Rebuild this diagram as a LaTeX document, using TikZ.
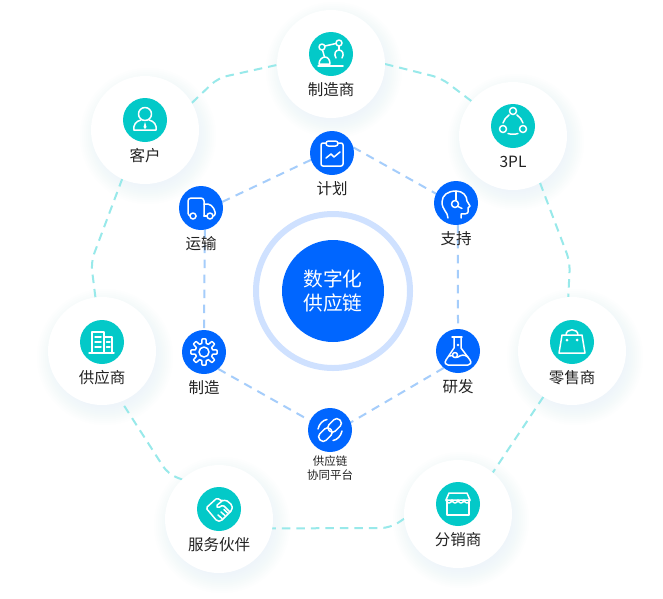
\documentclass[tikz,border=0pt]{standalone}
\usepackage{fontspec}
\setmainfont{Noto Sans CJK SC}
\usetikzlibrary{backgrounds}
\definecolor{tealc}{HTML}{03C9C8}
\definecolor{bluec}{HTML}{0066FF}
\definecolor{ringc}{HTML}{CFE1FF}
\definecolor{outerc}{HTML}{98E9EA}
\definecolor{innerc}{HTML}{A5CDFB}
\definecolor{shadowc}{HTML}{B4C4FA}
\definecolor{textc}{HTML}{222222}
\tikzset{
  disc/.style={circle,fill=white,minimum size=108pt,inner sep=0pt,outer sep=0pt},
  tealdot/.style={circle,fill=tealc,minimum size=44pt,inner sep=0pt,outer sep=0pt},
  bluedot/.style={circle,fill=bluec,minimum size=44pt,inner sep=0pt,outer sep=0pt},
  lab/.style={text=textc,font=\fontsize{15.5}{18}\selectfont,inner sep=0pt},
  smalllab/.style={text=textc,font=\fontsize{11.5}{14}\selectfont,inner sep=0pt},
  outerline/.style={draw=outerc,line width=2pt,dash pattern=on 8.5pt off 6pt,rounded corners=9pt},
  innerline/.style={draw=innerc,line width=2pt,dash pattern=on 8.5pt off 6.5pt},
  icon/.style={draw=white,line width=1.5pt,line join=round,line cap=round},
}
\newcommand{\softshadow}[2]{%
  \foreach \r in {68,66,...,50}{\fill[shadowc,opacity=.014] (#1+3,#2+6) circle[radius=\r pt];}}
\begin{document}
\begin{tikzpicture}[x=1pt,y=-1pt]
\useasboundingbox (0,0) rectangle (663,598);
% central hub
\node[circle,draw=ringc,line width=6pt,minimum size=154pt,inner sep=0pt] (ring) at (333,291) {};
\node[circle,fill=bluec,minimum size=102pt,inner sep=0pt,text=white,align=center,
      font=\fontsize{19.7}{24}\selectfont] (hub) at (333,291) {数字化\\供应链};
% outer discs
\node[disc] (maker) at (331,64) {};
\node[disc] (client) at (145,130) {};
\node[disc] (tpl) at (513,136) {};
\node[disc] (supplier) at (102,351) {};
\node[disc] (retail) at (572,351) {};
\node[disc] (partner) at (219,519) {};
\node[disc] (dist) at (458,514) {};
% teal icons
\node[tealdot] (makerI) at (331,54) {};
\node[tealdot] (clientI) at (145,120) {};
\node[tealdot] (tplI) at (513,126) {};
\node[tealdot] (supplierI) at (102,342) {};
\node[tealdot] (retailI) at (572,342) {};
\node[tealdot] (partnerI) at (219,509) {};
\node[tealdot] (distI) at (458,504) {};
% blue icons
\node[bluedot] (plan) at (332,153) {};
\node[bluedot] (truck) at (201,208) {};
\node[bluedot] (support) at (456,203) {};
\node[bluedot] (gear) at (204,352) {};
\node[bluedot] (flask) at (458,351) {};
\node[bluedot] (link) at (330,430) {};
% labels
\node[lab] (t1) at (331,90) {制造商};
\node[lab] (t2) at (145,156) {客户};
\node[lab] (t3) at (513,162) {3PL};
\node[lab] (t4) at (102,378) {供应商};
\node[lab] (t5) at (572,378) {零售商};
\node[lab] (t6) at (219,545) {服务伙伴};
\node[lab] (t7) at (458,540) {分销商};
\node[lab] (t8) at (332,189) {计划};
\node[lab] (t9) at (201,244) {运输};
\node[lab] (t10) at (456,239) {支持};
\node[lab] (t11) at (204,388) {制造};
\node[lab] (t12) at (458,387) {研发};
\node[smalllab,align=center] (t13) at (330,468) {供应链\\协同平台};
% bends
\coordinate (b1) at (441,78);
\coordinate (b2) at (570,262);
\coordinate (b3) at (390,528);
\coordinate (b4) at (168,474);
\coordinate (b5) at (91,262);
\coordinate (b6) at (218,78);
\begin{pgfonlayer}{background}
  \fill[white] (0,0) rectangle (663,598);
  \softshadow{331}{64}\softshadow{145}{130}\softshadow{513}{136}\softshadow{102}{351}
  \softshadow{572}{351}\softshadow{219}{519}\softshadow{458}{514}
  \path[outerline] (maker.0) -- (b1) -- (tpl.140);
  \path[outerline] (tpl.-60) -- (b2) -- (retail.94);
  \path[outerline] (retail.-122) -- (dist.50);
  \path[outerline] (dist.185) -- (b3) -- (partner.-10);
  \path[outerline] (partner.133) -- (b4) -- (supplier.-69);
  \path[outerline] (supplier.97) -- (b5) -- (client.-115);
  \path[outerline] (client.30) -- (b6) -- (maker.181);
  \path[innerline] (plan.198) -- (truck.16);
  \path[innerline] (plan.15) -- (support.155);
  \path[innerline] (truck.-80) -- (gear.90);
  \path[innerline] (support.-85) -- (flask.90);
  \path[innerline] (gear.-50) -- (link.155);
  \path[innerline] (flask.230) -- (link.20);
\end{pgfonlayer}
% robot arm
\begin{scope}[shift={(makerI)},icon]
  \draw (-13,12) -- (12,12);
  \draw (-9,-7) circle[radius=3pt];
  \draw (8,-11) circle[radius=3pt];
  \draw (-6,-8) -- (5,-10.5);
  \draw (-8.5,-4) -- (-6.5,3);
  \draw (-12,10) .. controls (-12,6) and (-9,3) .. (-6,3) .. controls (-3,3) and (-1,6) .. (-1,10) -- cycle;
  \draw (8,-8) -- (8,-4);
  \draw (5,4) .. controls (2.5,0) and (4.5,-4) .. (8,-4) .. controls (11.5,-4) and (13.5,0) .. (11,4);
\end{scope}
% person
\begin{scope}[shift={(clientI)},icon]
  \draw (0,-6) circle[radius=6.5pt];
  \draw (-11,10) -- (11,10) .. controls (12,5) and (9,1) .. (4,0);
  \draw (-11,10) .. controls (-12,5) and (-9,1) .. (-4,0);
  \fill[white,draw=none] (0,2) -- (1.5,7) -- (0,9) -- (-1.5,7) -- cycle;
\end{scope}
% three nodes
\begin{scope}[shift={(tplI)},icon]
  \draw (0,-15) circle[radius=3.5pt];
  \draw (-10,3) circle[radius=3.5pt];
  \draw (10,3) circle[radius=3.5pt];
  \draw (4,-11) .. controls (7,-9) and (9,-6) .. (10,-3);
  \draw (-4,-11) .. controls (-7,-9) and (-9,-6) .. (-10,-3);
  \draw (-5,7.5) .. controls (-2,8.5) and (2,8.5) .. (5,7.5);
\end{scope}
% building
\begin{scope}[shift={(supplierI)},icon]
  \draw (-13,11) -- (12,11);
  \draw (-10,11) -- (-10,-10) -- (2,-10) -- (2,11);
  \draw (2,-5) -- (10,-5) -- (10,11);
  \foreach \y in {-5,0,5}{\draw (-7,\y) -- (-1,\y);}
  \foreach \y in {0,5}{\draw (4.5,\y) -- (8,\y);}
\end{scope}
% bag
\begin{scope}[shift={(retailI)},icon]
  \draw (-10,-7) -- (10,-7) -- (13,11) -- (-13,11) -- cycle;
  \draw (-6,-7) .. controls (-6,-14) and (6,-14) .. (6,-7);
  \fill[white,draw=none] (-5,-2) circle[radius=1.5pt] (5,-2) circle[radius=1.5pt];
\end{scope}
% handshake
\begin{scope}[shift={(partnerI)},icon,rounded corners=1.5pt]
  \draw (-13,-1) -- (-2,-11) -- (3,-8) -- (7,-9) -- (13,-4) -- (13,1) -- (2,12) -- (-2,12) -- cycle;
  \draw (3,-8) -- (-3,-3) -- (-1,-1) -- (4,-4) -- (11,3);
  \draw (-1,6) -- (3,9.5);
  \draw (2,3) -- (6,6.5);
  \draw (5,0.5) -- (8.5,4);
\end{scope}
% store
\begin{scope}[shift={(distI)},icon]
  \draw (-9,-11) -- (9,-11) -- (12,-4) -- (-12,-4) -- cycle;
  \draw (-11,-4) -- (-11,11) -- (11,11) -- (11,-4);
  \foreach \x in {-12,-6,0,6}{
    \draw (\x,-4) .. controls (\x+1,0) and (\x+5,0) .. (\x+6,-4);}
\end{scope}
% clipboard
\begin{scope}[shift={(plan)},icon]
  \draw[rounded corners=2pt] (-11,-10) rectangle (11,13);
  \draw[fill=bluec,rounded corners=2.5pt] (-6,-12) rectangle (6,-7);
  \draw (-6,5) -- (-1,1) -- (2,4) -- (8,-1);
\end{scope}
% truck
\begin{scope}[shift={(truck)},icon]
  \draw[rounded corners=3pt] (-5,8) -- (-13,8) -- (-13,-10) -- (3,-10) -- (3,8);
  \draw (3,8) -- (6,8);
  \draw[rounded corners=2pt] (3,-4) -- (9,-4) -- (14,2) -- (14,8) -- (12,8);
  \draw[fill=bluec] (-8,8) circle[radius=3pt];
  \draw[fill=bluec] (9,8) circle[radius=3pt];
\end{scope}
% head
\begin{scope}[shift={(support)},icon]
  \draw (-8,15) .. controls (-8,9) and (-14,7) .. (-14,-1) .. controls (-14,-8) and (-8,-12) .. (0,-12)
     .. controls (7,-12) and (11,-7) .. (11,-2) -- (14,3) -- (12,5) -- (12,9) .. controls (12,11) and (8,11) .. (5,11) -- (5,15);
  \draw (0,-12) -- (0,-3);
  \draw (-1,1) circle[radius=3.5pt];
  \draw (2,3.5) -- (6,5.5);
\end{scope}
% gear
\begin{scope}[shift={(gear)},icon]
  \draw plot[domain=0:360,samples=121] (\x:{11+2.2*min(1,max(-1,2.5*cos(8*\x)))}) -- cycle;
  \draw (0,0) circle[radius=5pt];
\end{scope}
% flask
\begin{scope}[shift={(flask)},icon]
  \draw (-6,-14) -- (4,-14);
  \draw (-4,-14) -- (-4,-3) -- (-12,9) .. controls (-14,12) and (-12,14) .. (-10,14) -- (10,14) .. controls (12,14) and (14,12) .. (12,9) -- (3,-3) -- (3,-14);
  \draw (-9,5) .. controls (-5,3) and (-3,8) .. (0,6) .. controls (3,4) and (6,3) .. (10,6);
  \draw[fill=bluec] (-3,4) circle[radius=2.5pt];
  \fill[white,draw=none] (0,-6) circle[radius=1.3pt];
\end{scope}
% chain link
\begin{scope}[shift={(link)},icon]
  \draw (-12,-1) .. controls (-11,-6) and (-7,-10) .. (-3,-10.5);
  \draw (12,1) .. controls (11,6) and (7,10) .. (3,10.5);
  \begin{scope}[rotate=45]
    \draw[rounded corners=4pt] (-14,-4.5) -- (1,-4.5) -- (1,4.5) -- (-14,4.5) -- cycle;
    \draw[rounded corners=4pt] (-1,-4.5) -- (14,-4.5) -- (14,4.5) -- (-1,4.5) -- cycle;
  \end{scope}
\end{scope}
\end{tikzpicture}
\end{document}
